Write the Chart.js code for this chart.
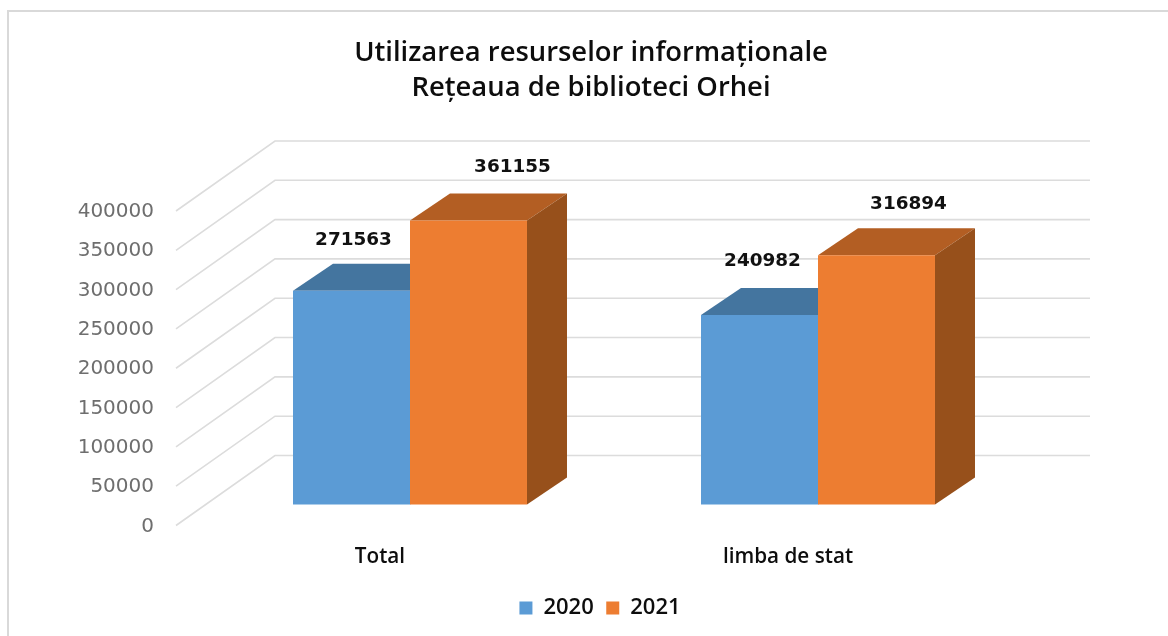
<!DOCTYPE html>
<html><head><meta charset="utf-8">
<style>html,body{margin:0;padding:0;background:#fff;overflow:hidden}
#wrap{position:relative;width:1168px;height:636px}
canvas{filter:blur(0.45px)}</style>
<script src="https://cdn.jsdelivr.net/npm/chart.js@4/dist/chart.umd.min.js"></script>
</head><body><div id="wrap"><canvas id="c" width="1168" height="636"></canvas></div>
<script>
const categories = ['Total', 'limba de stat'];
const series2020 = [271563, 240982];
const series2021 = [361155, 316894];
const seriesNames = ['2020', '2021'];
const titleLines = ['Utilizarea resurselor informaționale', 'Rețeaua de biblioteci Orhei'];

const BLUE = '#5B9BD5', ORANGE = '#ED7D31';
const TOPS = ['#44759F', '#B35E23'], SIDES = ['#3A6690', '#97501B'];
const WALL_DX = 99, WALL_DY = 70, WALL_LEFT = 30, WALL_RIGHT = 1090;
const BAR_DX = 40, BAR_DY = 27;
const LABEL_SHIFT = [[[2, -51], [3, -54]], [[44, -53], [32, -51]]];

function poly(ctx, pts, fill) {
  ctx.beginPath();
  pts.forEach((p, i) => i ? ctx.lineTo(p[0], p[1]) : ctx.moveTo(p[0], p[1]));
  ctx.closePath();
  ctx.fillStyle = fill;
  ctx.fill();
}

const scene3d = {
  id: 'scene3d',
  afterLayout(chart) {
    chart.legend.left += 18;
  },
  beforeDraw(chart) {
    const ctx = chart.ctx;
    ctx.save();
    ctx.strokeStyle = '#D9D9D9';
    ctx.lineWidth = 2;
    ctx.beginPath();
    ctx.moveTo(8, 636);
    ctx.lineTo(8, 11);
    ctx.lineTo(1168, 11);
    ctx.stroke();
    ctx.restore();
  },
  beforeDatasetsDraw(chart) {
    const ctx = chart.ctx, y = chart.scales.y, left = chart.chartArea.left - WALL_LEFT;
    ctx.save();
    ctx.strokeStyle = '#DCDCDC';
    ctx.lineWidth = 1.6;
    y.ticks.forEach(t => {
      const py = y.getPixelForValue(t.value);
      ctx.beginPath();
      ctx.moveTo(left, py);
      ctx.lineTo(left + WALL_DX, py - WALL_DY);
      ctx.lineTo(WALL_RIGHT, py - WALL_DY);
      ctx.stroke();
    });
    chart.data.datasets.forEach((ds, d) => {
      chart.getDatasetMeta(d).data.forEach(bar => {
        const l = bar.x - bar.width / 2, r = bar.x + bar.width / 2;
        poly(ctx, [[l, bar.y], [l + BAR_DX, bar.y - BAR_DY], [r + BAR_DX, bar.y - BAR_DY], [r, bar.y]], TOPS[d]);
        poly(ctx, [[r, bar.y], [r + BAR_DX, bar.y - BAR_DY], [r + BAR_DX, bar.base - BAR_DY], [r, bar.base]], SIDES[d]);
      });
    });
    ctx.restore();
  },
  afterDatasetsDraw(chart) {
    const ctx = chart.ctx;
    ctx.save();
    ctx.fillStyle = '#111';
    ctx.font = 'bold 18.4px "DejaVu Sans"';
    ctx.textAlign = 'center';
    ctx.textBaseline = 'middle';
    chart.data.datasets.forEach((ds, d) => {
      chart.getDatasetMeta(d).data.forEach((bar, i) => {
        ctx.fillText(String(ds.data[i]), bar.x + LABEL_SHIFT[d][i][0], bar.y + LABEL_SHIFT[d][i][1]);
      });
    });
    ctx.restore();
  }
};

new Chart(document.getElementById('c'), {
  type: 'bar',
  data: {
    labels: categories,
    datasets: [
      { label: seriesNames[0], data: series2020, backgroundColor: BLUE, yAxisID: 'yBars' },
      { label: seriesNames[1], data: series2021, backgroundColor: ORANGE, yAxisID: 'yBars' }
    ]
  },
  plugins: [scene3d],
  options: {
    responsive: false,
    animation: false,
    layout: { padding: { left: 14, right: 0, top: 0, bottom: 7 } },
    categoryPercentage: 0.5735,
    barPercentage: 1,
    plugins: {
      tooltip: { enabled: false },
      title: {
        display: true,
        text: titleLines,
        color: '#0d0d0d',
        font: { family: '"Open Sans"', size: 27.4, weight: '600', lineHeight: 1.277 },
        padding: { top: 36, bottom: 105 }
      },
      legend: {
        position: 'bottom',
        labels: {
          boxWidth: 13, boxHeight: 13, padding: 12.5, color: '#0d0d0d',
          font: { family: '"Open Sans"', size: 22, weight: '600' }
        }
      }
    },
    scales: {
      x: {
        grid: { display: false },
        border: { display: false },
        afterFit(s) { s.height = 59; },
        ticks: {
          padding: 11, labelOffset: -30, color: '#0d0d0d', maxRotation: 0,
          font: { family: '"Open Sans"', size: 20.7, weight: '600' }
        }
      },
      y: {
        position: 'left',
        min: 0, max: 400000,
        grid: { display: false, drawTicks: false },
        border: { display: false },
        afterFit(s) { s.width = 192; },
        ticks: {
          stepSize: 50000, padding: 52, color: '#6E6E6E', labelOffset: 1,
          font: { family: '"DejaVu Sans"', size: 20 },
          callback: v => String(v)
        }
      },
      yBars: {
        position: 'right',
        min: -26837, max: 373163,
        grid: { display: false },
        border: { display: false },
        ticks: { display: false },
        afterFit(s) { s.width = 146; }
      }
    }
  }
});
</script></body></html>
